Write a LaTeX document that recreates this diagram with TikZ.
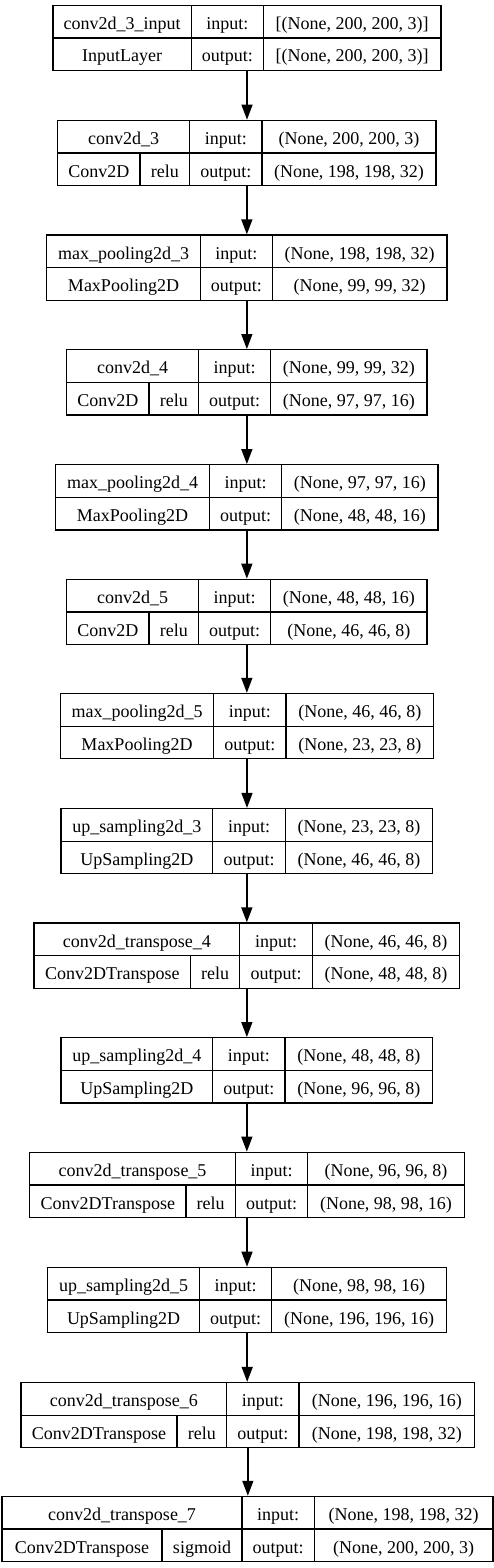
\documentclass[tikz,border=0pt]{standalone}
\usepackage{fontspec}
\setmainfont{Liberation Serif}
\usetikzlibrary{arrows.meta}

\tikzset{
  layerbox/.style={draw, line width=1.3pt, inner sep=0pt, minimum height=65.3pt},
  rule/.style={line width=1.3pt},
  cell/.style={anchor=base, inner sep=0pt, font=\fontsize{18}{21}\selectfont},
  flow/.style={-{Triangle[length=15pt,width=11pt]}, line width=1.5pt}
}

\begin{document}
\begin{tikzpicture}[x=1pt,y=1pt,yscale=-1]
\useasboundingbox (0,0) rectangle (494,1568);

% conv2d_3_input
\begin{scope}[shift={(0,5.3)}]
\node[layerbox, minimum width=388pt] (in3) at (247,32.65) {};
\draw[rule] (53,32.65) -- (441,32.65) (191.3,0) -- (191.3,65.3) (263.3,0) -- (263.3,65.3);
\node[cell] (in3name) at (122.2,24) {conv2d\_3\_input};
\node[cell] (in3kind) at (122.2,56.7) {InputLayer};
\node[cell] (in3i) at (227.3,24) {input:};
\node[cell] (in3o) at (227.3,56.7) {output:};
\node[cell] (in3iv) at (352.2,24) {[(None, 200, 200, 3)]};
\node[cell] (in3ov) at (352.2,56.7) {[(None, 200, 200, 3)]};
\end{scope}

% conv2d_3
\begin{scope}[shift={(0,120.3)}]
\node[layerbox, minimum width=378.3pt] (c3) at (246.85,32.65) {};
\draw[rule] (57.7,32.65) -- (436,32.65) (189.7,0) -- (189.7,65.3) (262,0) -- (262,65.3) (140,32.65) -- (140,65.3);
\node[cell] (c3name) at (123.7,24) {conv2d\_3};
\node[cell] (c3kind) at (98.85,56.7) {Conv2D};
\node[cell] (c3act) at (164.85,56.7) {relu};
\node[cell] (c3i) at (225.85,24) {input:};
\node[cell] (c3o) at (225.85,56.7) {output:};
\node[cell] (c3iv) at (349,24) {(None, 200, 200, 3)};
\node[cell] (c3ov) at (349,56.7) {(None, 198, 198, 32)};
\end{scope}

% max_pooling2d_3
\begin{scope}[shift={(0,235)}]
\node[layerbox, minimum width=400.3pt] (mp3) at (246.85,32.65) {};
\draw[rule] (46.7,32.65) -- (447,32.65) (200.3,0) -- (200.3,65.3) (272.3,0) -- (272.3,65.3);
\node[cell] (mp3name) at (123.5,24) {max\_pooling2d\_3};
\node[cell] (mp3kind) at (123.5,56.7) {MaxPooling2D};
\node[cell] (mp3i) at (236.3,24) {input:};
\node[cell] (mp3o) at (236.3,56.7) {output:};
\node[cell] (mp3iv) at (359.65,24) {(None, 198, 198, 32)};
\node[cell] (mp3ov) at (359.65,56.7) {(None, 99, 99, 32)};
\end{scope}

% conv2d_4
\begin{scope}[shift={(0,349.7)}]
\node[layerbox, minimum width=360.3pt] (c4) at (246.85,32.65) {};
\draw[rule] (66.7,32.65) -- (427,32.65) (198.7,0) -- (198.7,65.3) (270.7,0) -- (270.7,65.3) (149,32.65) -- (149,65.3);
\node[cell] (c4name) at (132.7,24) {conv2d\_4};
\node[cell] (c4kind) at (107.85,56.7) {Conv2D};
\node[cell] (c4act) at (173.85,56.7) {relu};
\node[cell] (c4i) at (234.7,24) {input:};
\node[cell] (c4o) at (234.7,56.7) {output:};
\node[cell] (c4iv) at (348.85,24) {(None, 99, 99, 32)};
\node[cell] (c4ov) at (348.85,56.7) {(None, 97, 97, 16)};
\end{scope}

% max_pooling2d_4
\begin{scope}[shift={(0,464.7)}]
\node[layerbox, minimum width=382.3pt] (mp4) at (246.85,32.65) {};
\draw[rule] (55.7,32.65) -- (438,32.65) (209.3,0) -- (209.3,65.3) (281.7,0) -- (281.7,65.3);
\node[cell] (mp4name) at (132.5,24) {max\_pooling2d\_4};
\node[cell] (mp4kind) at (132.5,56.7) {MaxPooling2D};
\node[cell] (mp4i) at (245.5,24) {input:};
\node[cell] (mp4o) at (245.5,56.7) {output:};
\node[cell] (mp4iv) at (359.85,24) {(None, 97, 97, 16)};
\node[cell] (mp4ov) at (359.85,56.7) {(None, 48, 48, 16)};
\end{scope}

% conv2d_5
\begin{scope}[shift={(0,579.3)}]
\node[layerbox, minimum width=360.3pt] (c5) at (246.85,32.65) {};
\draw[rule] (66.7,32.65) -- (427,32.65) (198.7,0) -- (198.7,65.3) (270.7,0) -- (270.7,65.3) (149,32.65) -- (149,65.3);
\node[cell] (c5name) at (132.7,24) {conv2d\_5};
\node[cell] (c5kind) at (107.85,56.7) {Conv2D};
\node[cell] (c5act) at (173.85,56.7) {relu};
\node[cell] (c5i) at (234.7,24) {input:};
\node[cell] (c5o) at (234.7,56.7) {output:};
\node[cell] (c5iv) at (348.85,24) {(None, 48, 48, 16)};
\node[cell] (c5ov) at (348.85,56.7) {(None, 46, 46, 8)};
\end{scope}

% max_pooling2d_5
\begin{scope}[shift={(0,693.5)}]
\node[layerbox, minimum width=373.4pt] (mp5) at (247,32.65) {};
\draw[rule] (60.3,32.65) -- (433.7,32.65) (213.7,0) -- (213.7,65.3) (286,0) -- (286,65.3);
\node[cell] (mp5name) at (137,24) {max\_pooling2d\_5};
\node[cell] (mp5kind) at (137,56.7) {MaxPooling2D};
\node[cell] (mp5i) at (249.85,24) {input:};
\node[cell] (mp5o) at (249.85,56.7) {output:};
\node[cell] (mp5iv) at (359.85,24) {(None, 46, 46, 8)};
\node[cell] (mp5ov) at (359.85,56.7) {(None, 23, 23, 8)};
\end{scope}

% up_sampling2d_3
\begin{scope}[shift={(0,808.5)}]
\node[layerbox, minimum width=371.7pt] (up3) at (246.85,32.65) {};
\draw[rule] (61,32.65) -- (432.7,32.65) (212.7,0) -- (212.7,65.3) (285.3,0) -- (285.3,65.3);
\node[cell] (up3name) at (136.85,24) {up\_sampling2d\_3};
\node[cell] (up3kind) at (136.85,56.7) {UpSampling2D};
\node[cell] (up3i) at (249,24) {input:};
\node[cell] (up3o) at (249,56.7) {output:};
\node[cell] (up3iv) at (359,24) {(None, 23, 23, 8)};
\node[cell] (up3ov) at (359,56.7) {(None, 46, 46, 8)};
\end{scope}

% conv2d_transpose_4
\begin{scope}[shift={(0,923)}]
\node[layerbox, minimum width=425.7pt] (ct4) at (246.85,32.65) {};
\draw[rule] (34,32.65) -- (459.7,32.65) (239.7,0) -- (239.7,65.3) (312.3,0) -- (312.3,65.3) (190.7,32.65) -- (190.7,65.3);
\node[cell] (ct4name) at (136.85,24) {conv2d\_transpose\_4};
\node[cell] (ct4kind) at (112.35,56.7) {Conv2DTranspose};
\node[cell] (ct4act) at (215.2,56.7) {relu};
\node[cell] (ct4i) at (276,24) {input:};
\node[cell] (ct4o) at (276,56.7) {output:};
\node[cell] (ct4iv) at (386,24) {(None, 46, 46, 8)};
\node[cell] (ct4ov) at (386,56.7) {(None, 48, 48, 8)};
\end{scope}

% up_sampling2d_4
\begin{scope}[shift={(0,1037.7)}]
\node[layerbox, minimum width=371.7pt] (up4) at (246.85,32.65) {};
\draw[rule] (61,32.65) -- (432.7,32.65) (212.7,0) -- (212.7,65.3) (285,0) -- (285,65.3);
\node[cell] (up4name) at (136.85,24) {up\_sampling2d\_4};
\node[cell] (up4kind) at (136.85,56.7) {UpSampling2D};
\node[cell] (up4i) at (248.85,24) {input:};
\node[cell] (up4o) at (248.85,56.7) {output:};
\node[cell] (up4iv) at (358.85,24) {(None, 48, 48, 8)};
\node[cell] (up4ov) at (358.85,56.7) {(None, 96, 96, 8)};
\end{scope}

% conv2d_transpose_5
\begin{scope}[shift={(0,1152.3)}]
\node[layerbox, minimum width=434.6pt] (ct5) at (247,32.65) {};
\draw[rule] (29.7,32.65) -- (464.3,32.65) (235.3,0) -- (235.3,65.3) (307.7,0) -- (307.7,65.3) (186,32.65) -- (186,65.3);
\node[cell] (ct5name) at (132.5,24) {conv2d\_transpose\_5};
\node[cell] (ct5kind) at (107.85,56.7) {Conv2DTranspose};
\node[cell] (ct5act) at (210.65,56.7) {relu};
\node[cell] (ct5i) at (271.5,24) {input:};
\node[cell] (ct5o) at (271.5,56.7) {output:};
\node[cell] (ct5iv) at (386,24) {(None, 96, 96, 8)};
\node[cell] (ct5ov) at (386,56.7) {(None, 98, 98, 16)};
\end{scope}

% up_sampling2d_5
\begin{scope}[shift={(0,1267.3)}]
\node[layerbox, minimum width=399pt] (up5) at (247.2,32.65) {};
\draw[rule] (47.7,32.65) -- (446.7,32.65) (199.3,0) -- (199.3,65.3) (271.7,0) -- (271.7,65.3);
\node[cell] (up5name) at (123.5,24) {up\_sampling2d\_5};
\node[cell] (up5kind) at (123.5,56.7) {UpSampling2D};
\node[cell] (up5i) at (235.5,24) {input:};
\node[cell] (up5o) at (235.5,56.7) {output:};
\node[cell] (up5iv) at (359.2,24) {(None, 98, 98, 16)};
\node[cell] (up5ov) at (359.2,56.7) {(None, 196, 196, 16)};
\end{scope}

% conv2d_transpose_6
\begin{scope}[shift={(0,1382.5)}]
\node[layerbox, minimum width=453.7pt] (ct6) at (247.85,32.65) {};
\draw[rule] (21,32.65) -- (474.7,32.65) (226.7,0) -- (226.7,65.3) (299,0) -- (299,65.3) (177,32.65) -- (177,65.3);
\node[cell] (ct6name) at (123.85,24) {conv2d\_transpose\_6};
\node[cell] (ct6kind) at (99,56.7) {Conv2DTranspose};
\node[cell] (ct6act) at (201.85,56.7) {relu};
\node[cell] (ct6i) at (262.85,24) {input:};
\node[cell] (ct6o) at (262.85,56.7) {output:};
\node[cell] (ct6iv) at (386.85,24) {(None, 196, 196, 16)};
\node[cell] (ct6ov) at (386.85,56.7) {(None, 198, 198, 32)};
\end{scope}

% conv2d_transpose_7
\begin{scope}[shift={(0,1496.4)}]
\node[layerbox, minimum width=491pt] (ct7) at (247.5,32.65) {};
\draw[rule] (2,32.65) -- (493,32.65) (242,0) -- (242,65.3) (314.3,0) -- (314.3,65.3) (162,32.65) -- (162,65.3);
\node[cell] (ct7name) at (122,24) {conv2d\_transpose\_7};
\node[cell] (ct7kind) at (82,56.7) {Conv2DTranspose};
\node[cell] (ct7act) at (202,56.7) {sigmoid};
\node[cell] (ct7i) at (278.15,24) {input:};
\node[cell] (ct7o) at (278.15,56.7) {output:};
\node[cell] (ct7iv) at (403.65,24) {(None, 198, 198, 32)};
\node[cell] (ct7ov) at (403.65,56.7) {(None, 200, 200, 3)};
\end{scope}

% arrows (kept vertical)
\draw[flow] (in3.south) -- (in3.south |- c3.north);
\draw[flow] (c3.south) -- (c3.south |- mp3.north);
\draw[flow] (mp3.south) -- (mp3.south |- c4.north);
\draw[flow] (c4.south) -- (c4.south |- mp4.north);
\draw[flow] (mp4.south) -- (mp4.south |- c5.north);
\draw[flow] (c5.south) -- (c5.south |- mp5.north);
\draw[flow] (mp5.south) -- (mp5.south |- up3.north);
\draw[flow] (up3.south) -- (up3.south |- ct4.north);
\draw[flow] (ct4.south) -- (ct4.south |- up4.north);
\draw[flow] (up4.south) -- (up4.south |- ct5.north);
\draw[flow] (ct5.south) -- (ct5.south |- up5.north);
\draw[flow] (up5.south) -- (up5.south |- ct6.north);
\draw[flow] (ct6.south) -- (ct6.south |- ct7.north);

\end{tikzpicture}
\end{document}
